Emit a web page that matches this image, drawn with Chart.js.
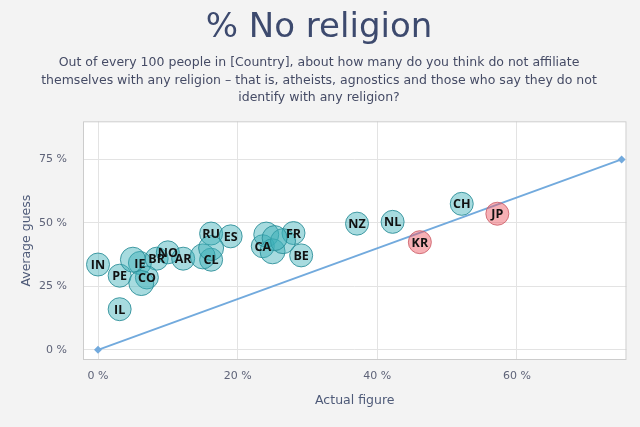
<!DOCTYPE html>
<html>
<head>
<meta charset="utf-8">
<script src="https://cdn.jsdelivr.net/npm/chart.js@4.4.0/dist/chart.umd.min.js"></script>
<style>
  body { margin: 0; background: #f3f3f3; }
  #wrap { width: 640px; height: 427px; }
</style>
</head>
<body>
<div id="wrap"><canvas id="grafico"></canvas></div>
<script>
const paises = ['IN', 'PE', 'IL', 'IE', 'BR', 'NO', 'AR', 'CO', 'RU', 'ES', 'CL', 'CA', 'FR', 'BE', 'NZ', 'NL', 'CH',
                '', '', '', '', '', '', '', ''];
const real   = [0, 3.1, 3.1, 6, 8.4, 10, 12.2, 7, 16.2, 19, 16.2, 23.6, 28, 29.1, 37.1, 42.2, 52.1,
                5, 6.2, 15, 16.2, 24.1, 25, 26.5, 25.3];
const palpite = [33.6, 29.2, 16, 34.2, 35.9, 38.4, 35.9, 28.5, 45.8, 44.7, 35.5, 40.8, 46, 37.2, 49.7, 50.4, 57.5,
                 35.5, 26.3, 36.8, 40.1, 45.4, 38.8, 42.8, 44];

// países onde o palpite ficou abaixo do valor real
const paisesAbaixo = ['KR', 'JP'];
const realAbaixo = [46.1, 57.2];
const palpiteAbaixo = [42.4, 53.6];

// linha de referência (palpite = real)
const linhaX = [0, 75];
const linhaY = [0, 75];

const ticksX = [0, 20, 40, 60];
const ticksY = [0, 25, 50, 75];

const titulo = '% No religion';
const subtitulo = [
  'Out of every 100 people in [Country], about how many do you think do not affiliate',
  'themselves with any religion – that is, atheists, agnostics and those who say they do not',
  'identify with any religion?'
];

const fonte = '"DejaVu Sans", "Open Sans", sans-serif';

// fundo da página e da área do gráfico + borda
const fundoPlugin = {
  id: 'fundo',
  beforeDraw(chart) {
    const { ctx, chartArea: a } = chart;
    ctx.save();
    ctx.fillStyle = '#f3f3f3';
    ctx.fillRect(0, 0, chart.width, chart.height);
    ctx.fillStyle = '#ffffff';
    ctx.fillRect(a.left, a.top, a.right - a.left, a.bottom - a.top);
    ctx.restore();
  },
  afterDraw(chart) {
    const { ctx, chartArea: a } = chart;
    ctx.save();
    ctx.strokeStyle = '#cccccc';
    ctx.lineWidth = 1;
    ctx.strokeRect(a.left + 0.5, a.top + 0.5, a.right - a.left - 1, a.bottom - a.top - 1);
    ctx.restore();
  }
};

// rótulos dentro das bolhas
const rotulosPlugin = {
  id: 'rotulos',
  afterDatasetsDraw(chart) {
    const ctx = chart.ctx;
    ctx.save();
    ctx.font = 'bold 12.5px "Open Sans", sans-serif';
    ctx.fillStyle = '#111';
    ctx.textAlign = 'center';
    ctx.textBaseline = 'middle';
    chart.data.datasets.forEach((ds, i) => {
      if (!ds.rotulos) return;
      chart.getDatasetMeta(i).data.forEach((el, j) => {
        const txt = ds.rotulos[j];
        if (txt) ctx.fillText(txt, el.x, el.y + 1);
      });
    });
    ctx.restore();
  }
};

const pontos = (xs, ys) => xs.map((x, i) => ({ x: x, y: ys[i] }));

new Chart(document.getElementById('grafico'), {
  type: 'scatter',
  data: {
    datasets: [
      {
        label: 'Actual',
        data: pontos(linhaX, linhaY),
        showLine: true,
        borderColor: '#72aadd',
        borderWidth: 2,
        pointStyle: 'rectRot',
        pointRadius: 4,
        pointBackgroundColor: '#72aadd',
        pointBorderWidth: 0,
        order: 3
      },
      {
        label: 'Guess over',
        data: pontos(real, palpite),
        rotulos: paises,
        backgroundColor: 'rgba(60, 175, 185, 0.45)',
        borderColor: 'rgba(40, 140, 150, 0.85)',
        borderWidth: 1,
        pointRadius: (c) => paises[c.dataIndex] ? 11.5 : 12.5,
        order: 2
      },
      {
        label: 'Guess under',
        data: pontos(realAbaixo, palpiteAbaixo),
        rotulos: paisesAbaixo,
        backgroundColor: 'rgba(236, 90, 100, 0.48)',
        borderColor: 'rgba(205, 95, 105, 0.85)',
        borderWidth: 1,
        pointRadius: 11.5,
        order: 1
      }
    ]
  },
  options: {
    responsive: true,
    maintainAspectRatio: false,
    animation: false,
    layout: { padding: { top: 0, left: 10, right: 12, bottom: 0 } },
    plugins: {
      legend: { display: false },
      tooltip: { enabled: false },
      title: {
        display: true,
        text: titulo,
        color: '#3d4a6e',
        font: { family: fonte, size: 34, weight: 'normal', lineHeight: 1.2 },
        padding: { top: 8, bottom: 5 }
      },
      subtitle: {
        display: true,
        text: subtitulo,
        color: '#454b65',
        font: { family: fonte, size: 12.5, weight: 'normal', lineHeight: 1.4 },
        padding: { top: 0.5, bottom: 14.5 }
      }
    },
    scales: {
      x: {
        type: 'linear',
        min: -2.15,
        max: 75.7,
        afterBuildTicks: (s) => { s.ticks = ticksX.map(v => ({ value: v })); },
        afterFit: (s) => { s.height = 67; },
        grid: { color: '#e3e3e3', drawTicks: false },
        border: { display: false },
        ticks: {
          color: '#5e6378',
          padding: 10,
          font: { family: fonte, size: 11 },
          callback: (v) => v + ' %'
        },
        title: {
          display: true,
          text: 'Actual figure',
          color: '#4e5a78',
          font: { family: fonte, size: 12.5 },
          padding: { top: 0, bottom: 19 }
        }
      },
      y: {
        type: 'linear',
        min: -4,
        max: 90,
        afterBuildTicks: (s) => { s.ticks = ticksY.map(v => ({ value: v })); },
        afterFit: (s) => { s.width = 73; },
        grid: { color: '#e3e3e3', drawTicks: false },
        border: { display: false },
        ticks: {
          color: '#5e6378',
          padding: 16,
          font: { family: fonte, size: 11 },
          callback: (v) => v + ' %'
        },
        title: {
          display: true,
          text: 'Average guess',
          color: '#4e5a78',
          font: { family: fonte, size: 12.5 },
          padding: { top: 9, bottom: 0 }
        }
      }
    }
  },
  plugins: [fundoPlugin, rotulosPlugin]
});
</script>
</body>
</html>
